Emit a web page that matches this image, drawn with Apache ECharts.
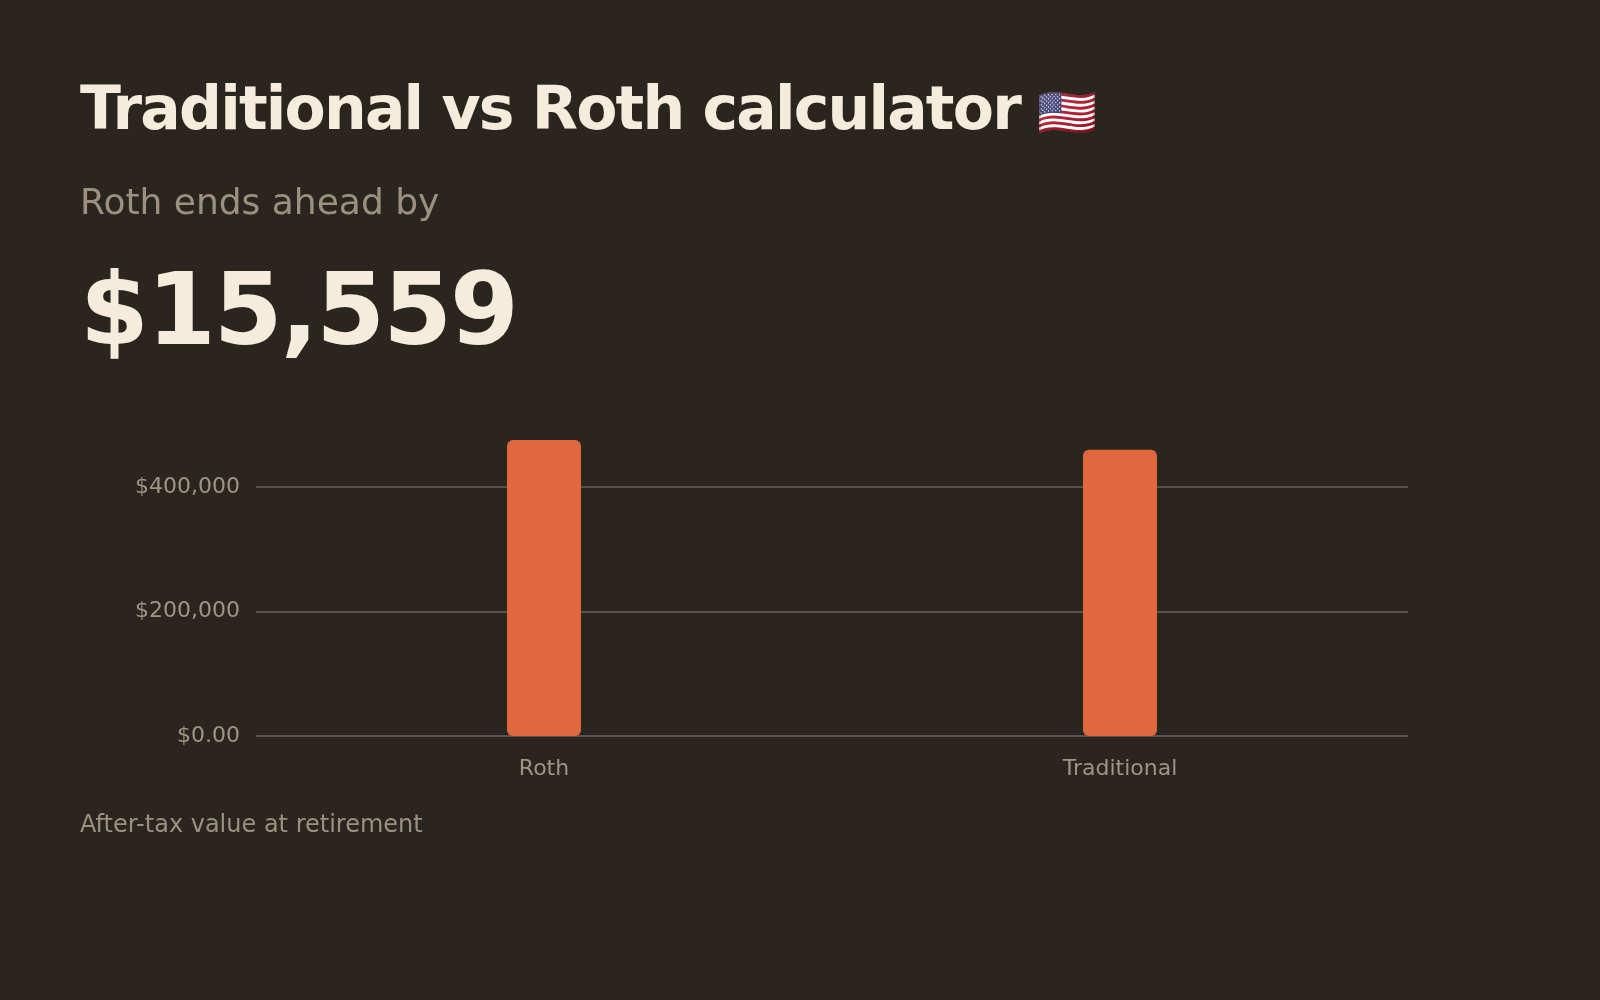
<!DOCTYPE html>
<html>
<head>
<meta charset="utf-8">
<title>Traditional vs Roth calculator</title>
<script src="https://cdn.jsdelivr.net/npm/echarts@6/dist/echarts.min.js"></script>
<style>
  html, body { margin: 0; padding: 0; background: #2a251f; }
  body { width: 1600px; height: 1000px; position: relative; overflow: hidden; font-family: "DejaVu Sans", sans-serif; }
  #chart { position: absolute; left: 0; top: 0; width: 1600px; height: 1000px; }
  .txt { position: absolute; left: 80px; line-height: 1; white-space: nowrap; z-index: 2; }
  #title { top: 78px; font-size: 60px; font-weight: bold; color: #f5ecdc; letter-spacing: -1.8px; }
  #title .flag { font-size: 48px; margin-left: 17px; font-weight: normal; letter-spacing: 0; }
  #sub { top: 184px; font-size: 36px; color: #9c907f; }
  #big { top: 260px; font-size: 99px; font-weight: bold; color: #f5ecdc; letter-spacing: -2px; }
  #caption { top: 812px; font-size: 24px; color: #9c907f; }
</style>
</head>
<body>
<div id="title" class="txt">Traditional vs Roth calculator<span class="flag">🇺🇸</span></div>
<div id="sub" class="txt">Roth ends ahead by</div>
<div id="big" class="txt">$15,559</div>
<div id="caption" class="txt">After-tax value at retirement</div>
<div id="chart"></div>
<script>
// after-tax value at retirement
const categories = ['Roth', 'Traditional'];
const afterTaxValues = [475600, 460041];

// y axis ticks as shown
const yTickValues = [0, 200000, 400000];
const yTickLabels = ['$0.00', '$200,000', '$400,000'];

const chart = echarts.init(document.getElementById('chart'));

const option = {
    backgroundColor: 'transparent',
    animation: false,
    grid: {
        left: 256,
        right: 192,
        top: 440,
        bottom: 264
    },
    xAxis: {
        type: 'category',
        data: categories,
        axisLine: { show: false },
        axisTick: { show: false },
        axisLabel: {
            color: '#a09483',
            fontSize: 22,
            fontFamily: 'DejaVu Sans',
            margin: 22
        }
    },
    yAxis: {
        type: 'value',
        min: 0,
        max: 'dataMax',
        interval: 200000,
        axisLine: { show: false },
        axisTick: { show: false },
        splitLine: {
            showMaxLine: false,
            lineStyle: { color: '#58524a', width: 2 }
        },
        axisLabel: {
            showMaxLabel: false,
            color: '#a09483',
            fontSize: 22,
            fontFamily: 'DejaVu Sans',
            margin: 16,
            formatter: function (value) {
                let i = yTickValues.indexOf(value);
                return i >= 0 ? yTickLabels[i] : '';
            }
        }
    },
    series: [
        {
            name: 'After-tax value',
            type: 'bar',
            data: afterTaxValues,
            barWidth: 74,
            itemStyle: {
                color: '#e0683d',
                borderRadius: 6
            }
        }
    ]
};

chart.setOption(option);
</script>
</body>
</html>
